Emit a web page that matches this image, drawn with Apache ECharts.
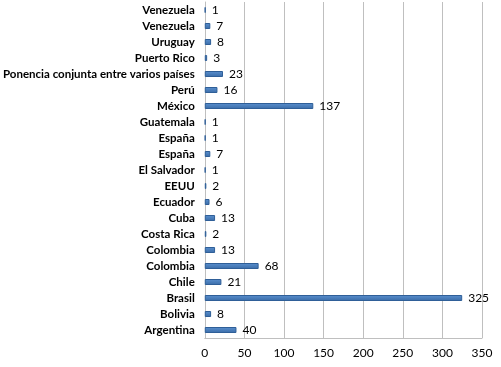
<!DOCTYPE html>
<html><head><meta charset="utf-8">
<script src="https://cdn.jsdelivr.net/npm/echarts@6/dist/echarts.min.js"></script>
<style>html,body{margin:0;padding:0;background:#fff}#c{width:501px;height:367px}</style>
</head><body><div id="c"></div>
<script>
const categories = ['Argentina','Bolivia','Brasil','Chile','Colombia','Colombia','Costa Rica','Cuba','Ecuador','EEUU','El Salvador','España','España','Guatemala','México','Perú','Ponencia conjunta entre varios países','Puerto Rico','Uruguay','Venezuela','Venezuela'];
const values = [40,8,325,21,68,13,2,13,6,2,1,7,1,1,137,16,23,3,8,7,1];
const xTicks = [0,50,100,150,200,250,300,350];

const chart = echarts.init(document.getElementById('c'));
chart.setOption({
  animation:false,
  grid:{left:202,right:19,top:2,bottom:29,containLabel:false},
  xAxis:{type:'value',min:xTicks[0],max:xTicks[xTicks.length-1],interval:50,
    axisLine:{show:true,lineStyle:{color:'#bfbfbf'}},axisTick:{show:false},
    splitLine:{show:true,lineStyle:{color:'#bfbfbf',width:1}},
    axisLabel:{color:'#000',fontFamily:'Lato',fontSize:12,margin:9}},
  yAxis:{type:'category',data:categories,
    axisLine:{show:true,lineStyle:{color:'#bfbfbf'}},axisTick:{show:false},
    splitLine:{show:false},
    axisLabel:{color:'#000',fontFamily:'Lato',fontWeight:'bold',fontSize:11.5,margin:10,interval:0}},
  series:[{type:'bar',data:values,barWidth:6,
    itemStyle:{color:new echarts.graphic.LinearGradient(0,0,0,1,[{offset:0,color:'#5b8fce'},{offset:0.5,color:'#4a7ebb'},{offset:1,color:'#3a6aa5'}]),borderColor:'#2f5f98',borderWidth:1},
    label:{show:true,position:'right',distance:6,color:'#000',fontFamily:'Lato',fontSize:12}}]
});
</script></body></html>
